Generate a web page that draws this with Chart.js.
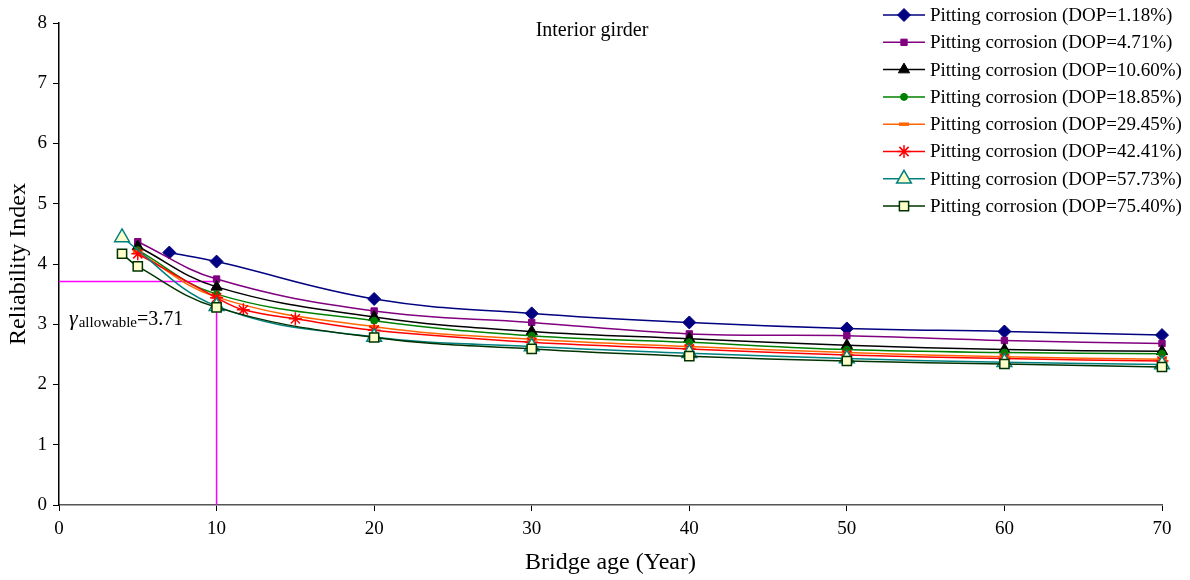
<!DOCTYPE html>
<html><head><meta charset="utf-8">
<script src="https://cdn.jsdelivr.net/npm/chart.js@4.4.1/dist/chart.umd.min.js"></script>
<style>html,body{margin:0;padding:0;background:#fff;}#wrap{width:1190px;height:580px;}</style>
</head><body><div id="wrap"><canvas id="c" width="1190" height="580"></canvas></div>
<script>
const seriesLabels = [
  'Pitting corrosion (DOP=1.18%)','Pitting corrosion (DOP=4.71%)','Pitting corrosion (DOP=10.60%)',
  'Pitting corrosion (DOP=18.85%)','Pitting corrosion (DOP=29.45%)','Pitting corrosion (DOP=42.41%)',
  'Pitting corrosion (DOP=57.73%)','Pitting corrosion (DOP=75.40%)'];
const ages1 = [7,10,20,30,40,50,60,70];
const beta1 = [4.19,4.04,3.42,3.18,3.03,2.93,2.88,2.82];
const ages2 = [5,10,20,30,40,50,60,70];
const beta2 = [4.37,3.75,3.22,3.03,2.84,2.81,2.73,2.68];
const ages3 = [5,10,20,30,40,50,60,70];
const beta3 = [4.29,3.62,3.12,2.88,2.76,2.65,2.58,2.55];
const ages4 = [5,10,20,30,40,50,60,70];
const beta4 = [4.23,3.50,3.06,2.81,2.70,2.58,2.53,2.51];
const ages5 = [5,10,20,30,40,50,60,70];
const beta5 = [4.20,3.45,2.96,2.75,2.63,2.53,2.46,2.42];
const ages6 = [5,10,11.7,15,20,30,40,50,60,70];
const beta6 = [4.17,3.44,3.24,3.09,2.90,2.70,2.59,2.49,2.43,2.39];
const ages7 = [4,10,20,30,40,50,60,70];
const beta7 = [4.44,3.30,2.79,2.63,2.52,2.43,2.37,2.33];
const ages8 = [4,5,10,20,30,40,50,60,70];
const beta8 = [4.17,3.96,3.28,2.78,2.59,2.47,2.39,2.34,2.29];
const allowableAge = 10;
const allowableBeta = 3.71;
const xTickMin = 0, xTickMax = 70, xTickStep = 10;
const yTickMin = 0, yTickMax = 8, yTickStep = 1;

const agesList = [ages1,ages2,ages3,ages4,ages5,ages6,ages7,ages8];
const betaList = [beta1,beta2,beta3,beta4,beta5,beta6,beta7,beta8];
const styles = [
  {c:'#000080', bg:'#000080', ps:'rectRot', r:6.5, bw:1},
  {c:'#800080', bg:'#800080', ps:'rect', r:4.5, bw:1},
  {c:'#000000', bg:'#000000', ps:'triangle', r:6.5, bw:1},
  {c:'#008000', bg:'#008000', ps:'circle', r:3.5, bw:1},
  {c:'#FF6600', bg:'#FF6600', ps:'line', r:5, bw:3.5},
  {c:'#FF0000', bg:'#FF0000', ps:'star', r:6.5, bw:1.5},
  {c:'#008080', bg:'#FFFFCC', ps:'triangle', r:8.5, bw:1.5},
  {c:'#003300', bg:'#FFFFCC', ps:'rect', r:6.5, bw:1.5}
];
const SERIF = "'Liberation Serif','Times New Roman',serif";

const datasets = agesList.map((ages,i)=>({
  label: seriesLabels[i],
  data: ages.map((a,j)=>({x:a,y:betaList[i][j]})),
  borderColor: styles[i].c, backgroundColor: styles[i].bg,
  pointBorderColor: styles[i].c, pointBackgroundColor: styles[i].bg,
  pointStyle: styles[i].ps, pointRadius: styles[i].r, pointBorderWidth: styles[i].bw,
  borderWidth: 1.5, tension: 0.4, clip: false, order: 8 - i
}));
datasets.push({
  label: 'allowable',
  data: [{x:xTickMin,y:allowableBeta},{x:allowableAge,y:allowableBeta},{x:allowableAge,y:yTickMin}],
  borderColor:'#FF00FF', borderWidth:1.5, pointRadius:0, tension:0, order: 100
});

const overlay = {
  id:'overlay',
  afterDraw(chart){
    const ctx = chart.ctx;
    ctx.save();
    ctx.fillStyle = '#000';
    ctx.textBaseline = 'middle';
    ctx.textAlign = 'center';
    ctx.font = '20px ' + SERIF;
    ctx.fillText('Interior girder', 592, 31);
    // annotation
    ctx.textAlign = 'left';
    ctx.textBaseline = 'alphabetic';
    let x = 69, yb = 325;
    ctx.font = 'italic 22px ' + SERIF;
    ctx.fillText('\u03B3', x, yb); x += ctx.measureText('\u03B3').width + 1;
    ctx.font = '15px ' + SERIF;
    ctx.fillText('allowable', x, yb + 2); x += ctx.measureText('allowable').width;
    ctx.font = '20px ' + SERIF;
    ctx.fillText('=3.71', x, yb);
    // legend
    ctx.textBaseline = 'middle';
    ctx.font = '19px ' + SERIF;
    for (let i=0;i<8;i++){
      const y = 15 + i*27.3;
      const s = styles[i];
      ctx.strokeStyle = s.c; ctx.lineWidth = 1.5;
      ctx.beginPath(); ctx.moveTo(883,y); ctx.lineTo(925,y); ctx.stroke();
      ctx.fillStyle = s.bg; ctx.strokeStyle = s.c; ctx.lineWidth = s.bw;
      Chart.helpers.drawPoint(ctx, {pointStyle:s.ps, radius:s.r, borderWidth:s.bw, rotation:0}, 904, y);
      ctx.fillStyle = '#000';
      ctx.fillText(seriesLabels[i], 930, y + 1);
    }
    ctx.restore();
  }
};

new Chart(document.getElementById('c'), {
  type:'line',
  data:{datasets},
  plugins:[overlay],
  options:{
    responsive:false, devicePixelRatio:1, animation:false,
    layout:{padding:{top:23,right:28,left:0,bottom:0}},
    plugins:{legend:{display:false}, tooltip:{enabled:false}},
    scales:{
      x:{type:'linear', min:xTickMin, max:xTickMax,
        ticks:{stepSize:xTickStep, color:'#000', font:{family:SERIF,size:19}, padding:7, maxRotation:0},
        grid:{display:true, drawOnChartArea:false, drawTicks:true, tickLength:6, color:'#000'},
        border:{color:'#555', width:1.5},
        title:{display:true, text:'Bridge age (Year)', color:'#000', font:{family:SERIF,size:24}, padding:{top:0,bottom:3}},
        afterFit(s){ s.height = 75; }
      },
      y:{type:'linear', min:yTickMin, max:yTickMax,
        ticks:{stepSize:yTickStep, color:'#000', font:{family:SERIF,size:19}, padding:6},
        grid:{display:true, drawOnChartArea:false, drawTicks:true, tickLength:6, color:'#000'},
        border:{color:'#000', width:1.5},
        title:{display:true, text:'Reliability Index', color:'#000', font:{family:SERIF,size:24}, padding:{top:4,bottom:0}},
        afterFit(s){ s.width = 59; }
      }
    }
  }
});
</script></body></html>
